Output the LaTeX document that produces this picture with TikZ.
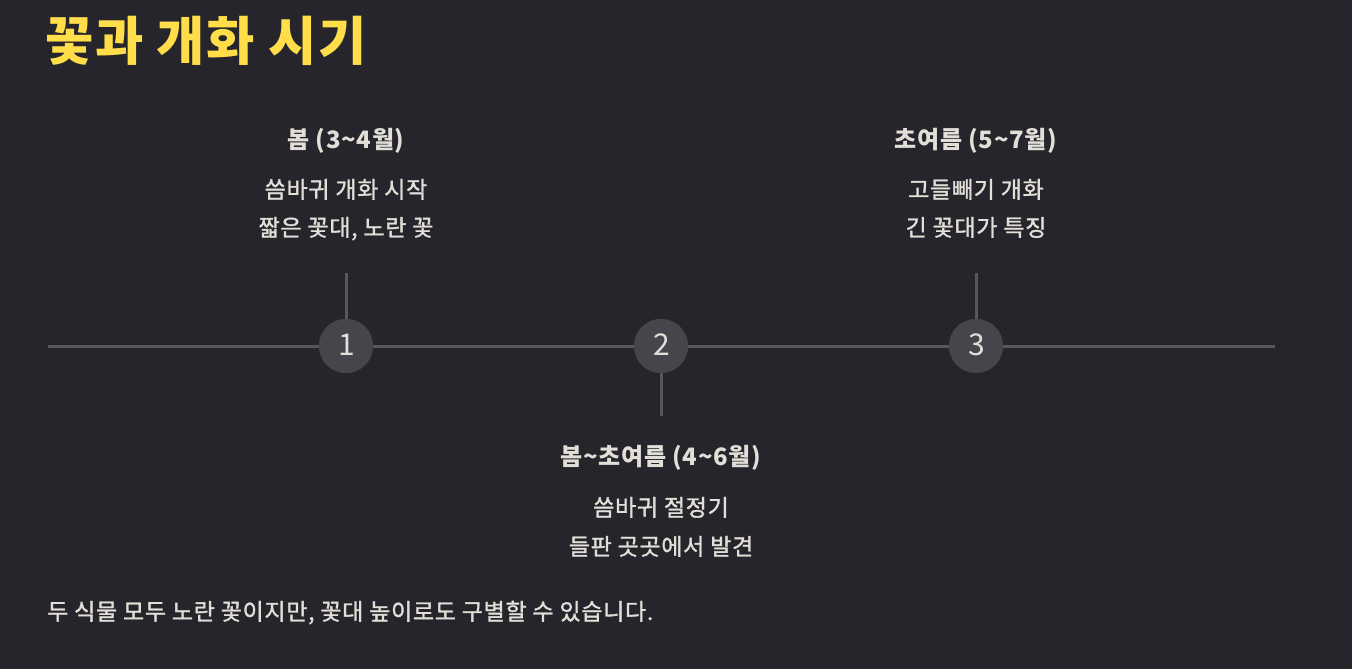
\documentclass[tikz,border=0pt]{standalone}
\usepackage{fontspec}
\setmainfont{Noto Sans CJK KR}[LetterSpace=3]
\newfontfamily\medfont{Noto Sans CJK KR}[LetterSpace=3,FakeBold=1.4]
\newfontfamily\numfont{Noto Sans CJK KR}
\definecolor{bg}{HTML}{26252B}
\definecolor{ttl}{HTML}{FFDE4A}
\definecolor{txt}{HTML}{E2DED8}
\definecolor{ln}{HTML}{57565C}
\definecolor{cf}{HTML}{46454B}
\tikzset{
  head/.style={text=txt,font=\fontsize{24}{28}\selectfont\bfseries,anchor=base,inner sep=0pt},
  sub/.style={text=txt,font=\medfont\fontsize{23}{26}\selectfont,anchor=base,inner sep=0pt},
  dot/.style={circle,fill=cf,minimum size=54pt,inner sep=0pt},
  num/.style={text=txt,font=\numfont\fontsize{30}{32}\selectfont,anchor=base,inner sep=0pt},
  axis/.style={draw=ln,line width=3pt},
}
\begin{document}
\begin{tikzpicture}[x=1pt,y=-1pt]
\fill[bg] (0,0) rectangle (1352,669);
\useasboundingbox (0,0) rectangle (1352,669);
\node[text=ttl,font=\fontsize{52.5}{58}\selectfont\bfseries,anchor=base west,inner sep=0pt] (title) at (45,61) {꽃과 개화 시기};
\coordinate (l) at (48,346);
\coordinate (r) at (1275,346);
\coordinate (s1) at (346,273);
\coordinate (s2) at (661,416);
\coordinate (s3) at (976,273);
\node[dot] (c1) at (346,346) {};
\node[dot] (c2) at (661,346) {};
\node[dot] (c3) at (976,346) {};
\draw[axis] (l) -- (c1) -- (c2) -- (c3) -- (r);
\draw[axis] (s1) -- (c1.north);
\draw[axis] (s2) -- (c2.south);
\draw[axis] (s3) -- (c3.north);
\node[dot] at (c1) {};
\node[dot] at (c2) {};
\node[dot] at (c3) {};
\node[num] (n1) at (347,355) {1};
\node[num] (n2) at (662,355) {2};
\node[num] (n3) at (977,355) {3};
\node[head] (h1) at (346,148) {봄 (3\char`~4월)};
\node[sub] (a1) at (346,198) {씀바귀 개화 시작};
\node[sub] (b1) at (346,236) {짧은 꽃대, 노란 꽃};
\node[head] (h2) at (661,465) {봄\char`~초여름 (4\char`~6월)};
\node[sub] (a2) at (661,516) {씀바귀 절정기};
\node[sub] (b2) at (661,555) {들판 곳곳에서 발견};
\node[head] (h3) at (976,148) {초여름 (5\char`~7월)};
\node[sub] (a3) at (976,198) {고들빼기 개화};
\node[sub] (b3) at (976,236) {긴 꽃대가 특징};
\node[sub,anchor=base west] (foot) at (47,620) {두 식물 모두 노란 꽃이지만, 꽃대 높이로도 구별할 수 있습니다.};
\end{tikzpicture}
\end{document}
